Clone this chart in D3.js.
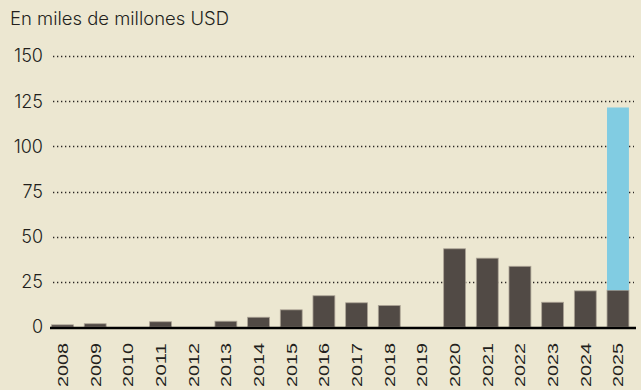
<!DOCTYPE html>
<html lang="es">
<head>
<meta charset="utf-8">
<title>Inversión</title>
<script src="https://d3js.org/d3.v7.min.js"></script>
<style>
  html, body { margin: 0; padding: 0; background: #ece7d1; }
  svg { display: block; }
</style>
</head>
<body>
<script>
    // datos
    var years = ["2008","2009","2010","2011","2012","2013","2014","2015","2016",
                 "2017","2018","2019","2020","2021","2022","2023","2024","2025"];
    var baseValues = [1.2, 1.8, 0, 2.9, 0, 3.2, 5.4, 9.5, 17.3, 13.4, 11.9, 0,
                      43.3, 38.1, 33.6, 13.7, 20.0, 20.4];
    var extraValues = [0, 0, 0, 0, 0, 0, 0, 0, 0, 0, 0, 0, 0, 0, 0, 0, 0, 101.1];
    var yTicks = [0, 25, 50, 75, 100, 125, 150];
    var title = "En miles de millones USD";

    var width = 641, height = 390;

    var svg = d3.select("body").append("svg")
        .attr("width", width)
        .attr("height", height);

    svg.append("rect")
        .attr("width", width).attr("height", height)
        .attr("fill", "#ece7d1");

    var x = d3.scaleBand()
        .domain(years)
        .range([46.2, 634.3])
        .paddingInner(0.33)
        .paddingOuter(0.165);

    var y = d3.scaleLinear()
        .domain([0, 150])
        .range([327, 56]);

    // titulo
    svg.append("text")
        .attr("x", 10)
        .attr("y", 25)
        .attr("font-family", "Inter, sans-serif")
        .attr("font-size", "18px")
        .attr("font-weight", 300)
        .attr("fill", "#231f1c")
        .attr("textLength", 219)
        .attr("lengthAdjust", "spacingAndGlyphs")
        .text(title);

    // lineas de cuadricula
    svg.append("g").selectAll("line")
        .data(yTicks.filter(function(d) { return d > 0; }))
        .enter().append("line")
        .attr("x1", 53)
        .attr("x2", 634)
        .attr("y1", function(d) { return Math.round(y(d)) + 0.5; })
        .attr("y2", function(d) { return Math.round(y(d)) + 0.5; })
        .attr("stroke", "#2a2623")
        .attr("stroke-width", 1.3)
        .attr("stroke-dasharray", "1.3,2.7");

    // etiquetas eje y
    svg.append("g").selectAll("text")
        .data(yTicks)
        .enter().append("text")
        .attr("x", 43)
        .attr("y", function(d) { return y(d); })
        .attr("dy", "0.36em")
        .attr("text-anchor", "end")
        .attr("font-family", "Inter, sans-serif")
        .attr("font-size", "18px")
        .attr("font-weight", 300)
        .attr("fill", "#231f1c")
        .text(function(d) { return d; });

    // barras base
    svg.append("g").selectAll("rect")
        .data(years)
        .enter().append("rect")
        .attr("x", function(d) { return x(d); })
        .attr("width", x.bandwidth())
        .attr("y", function(d, i) { return y(baseValues[i]); })
        .attr("height", function(d, i) { return y(0) - y(baseValues[i]); })
        .attr("fill", "#514a45")
        .attr("stroke", function(d, i) { return baseValues[i] > 0 ? "#aca496" : "none"; })
        .attr("stroke-width", 0.8);

    // barras extra (2025)
    svg.append("g").selectAll("rect")
        .data(years)
        .enter().append("rect")
        .attr("x", function(d) { return x(d); })
        .attr("width", x.bandwidth())
        .attr("y", function(d, i) { return y(baseValues[i] + extraValues[i]); })
        .attr("height", function(d, i) { return y(baseValues[i]) - y(baseValues[i] + extraValues[i]); })
        .attr("fill", "#81cce2");

    // eje x
    svg.append("line")
        .attr("x1", 50).attr("x2", 636)
        .attr("y1", 328).attr("y2", 328)
        .attr("stroke", "#000")
        .attr("stroke-width", 2.6);

    // etiquetas eje x
    svg.append("g").selectAll("text")
        .data(years)
        .enter().append("text")
        .attr("transform", function(d) {
            return "translate(" + (x(d) + x.bandwidth() / 2) + ",343) rotate(-90)";
        })
        .attr("dy", "0.36em")
        .attr("text-anchor", "end")
        .attr("font-family", "'Liberation Sans', Arial, sans-serif")
        .attr("font-size", "15px")
        .attr("textLength", 44)
        .attr("lengthAdjust", "spacingAndGlyphs")
        .attr("fill", "#231f1c")
        .text(function(d) { return d; });
</script>
</body>
</html>
